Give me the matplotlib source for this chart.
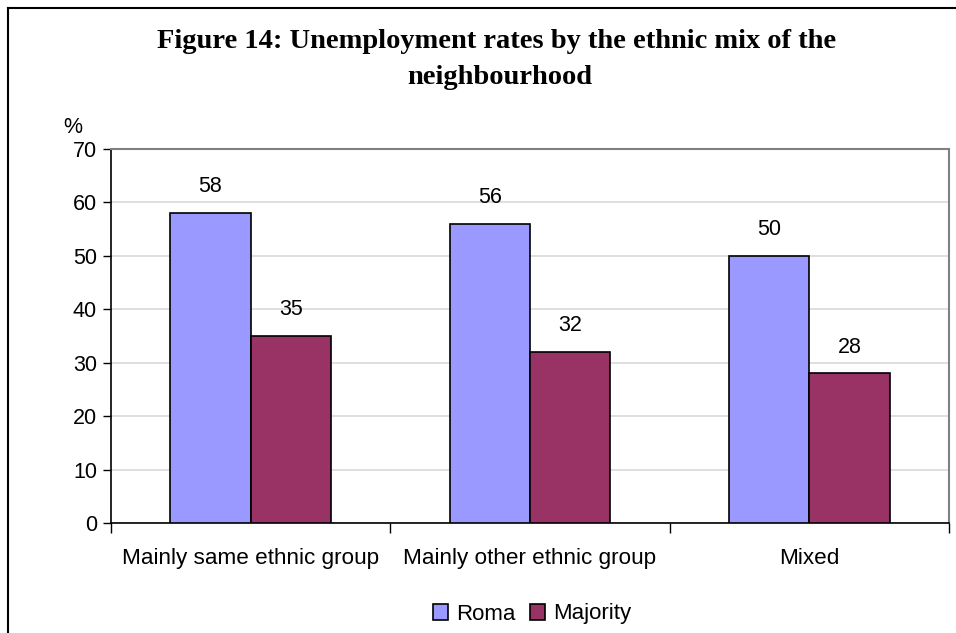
import numpy as np
import matplotlib
matplotlib.use("Agg")
import matplotlib.pyplot as plt
from matplotlib.lines import Line2D
from matplotlib.patches import Patch

categories = ["Mainly same ethnic group", "Mainly other ethnic group", "Mixed"]
roma = [58, 56, 50]
majority = [35, 32, 28]
series_names = ["Roma", "Majority"]

ROMA_COL = "#9999FF"
MAJ_COL = "#993366"

plt.rcParams["font.family"] = ["Liberation Sans", "DejaVu Sans"]

fig = plt.figure(figsize=(9.56, 6.33), dpi=100)
ax = fig.add_axes([111/956, 110/633, 838/956, 374/633])

x = np.arange(len(categories))
w = 0.2875
b1 = ax.bar(x - w/2, roma, w, color=ROMA_COL, edgecolor="black", linewidth=1.2, zorder=3)
b2 = ax.bar(x + w/2, majority, w, color=MAJ_COL, edgecolor="black", linewidth=1.2, zorder=3)

for bars, vals in ((b1, roma), (b2, majority)):
    for r, v in zip(bars, vals):
        ax.annotate(str(v), (r.get_x() + r.get_width()/2, v), xytext=(0, 19),
                    textcoords="offset points", ha="center", va="center", fontsize=15.5)

ax.set_xlim(-0.5, 2.5)
ax.set_ylim(0, 70)
ax.set_yticks(range(0, 71, 10))
ax.yaxis.grid(True, color="#D9D9D9", linewidth=1.2, zorder=0)
ax.set_axisbelow(True)
ax.tick_params(axis="y", labelsize=15.5, length=6, width=1, direction="out", pad=4)

# category boundaries carry the tick marks, labels sit in the middle
ax.set_xticks([-0.5, 0.5, 1.5, 2.5])
ax.set_xticklabels([])
ax.tick_params(axis="x", length=7, width=1, direction="out")
ax.set_xticks(x, minor=True)
ax.set_xticklabels(categories, minor=True)
ax.tick_params(axis="x", which="minor", length=0, labelsize=16.2, pad=18)

for s in ("left", "bottom"):
    ax.spines[s].set_color("black")
    ax.spines[s].set_linewidth(1.2)
for s in ("top", "right"):
    ax.spines[s].set_color("#808080")
    ax.spines[s].set_linewidth(1.5)

fig.text(73/956, 1 - 128/633, "%", fontsize=15.5, ha="center", va="center")

fig.text(497/956, 1 - 42/633, "Figure 14: Unemployment rates by the ethnic mix of the",
         family=["Liberation Serif", "DejaVu Serif"], weight="bold", fontsize=20.5,
         ha="center", va="center")
fig.text(500/956, 1 - 77/633, "neighbourhood",
         family=["Liberation Serif", "DejaVu Serif"], weight="bold", fontsize=20.5,
         ha="center", va="center")

handles = [Patch(facecolor=ROMA_COL, edgecolor="black", linewidth=1.2),
           Patch(facecolor=MAJ_COL, edgecolor="black", linewidth=1.2)]
fig.legend(handles, series_names, loc="center", bbox_to_anchor=(532/956, 1 - 614/633),
           ncol=2, frameon=False, fontsize=16, handlelength=0.7, handleheight=0.7,
           handletextpad=0.35, columnspacing=0.65)

# outer frame
fig.add_artist(Line2D([8/956, 1], [1 - 8/633] * 2, transform=fig.transFigure,
                      color="black", linewidth=1.5))
fig.add_artist(Line2D([8/956] * 2, [0, 1 - 8/633], transform=fig.transFigure,
                      color="black", linewidth=1.5))

plt.savefig("out.png", dpi=100)
